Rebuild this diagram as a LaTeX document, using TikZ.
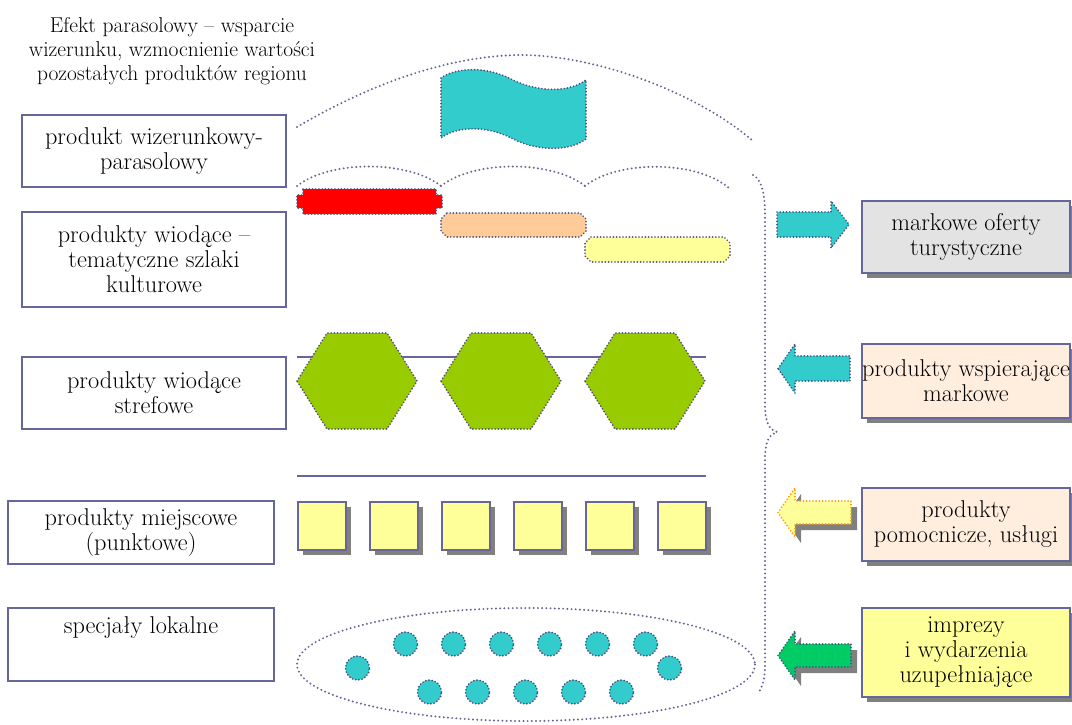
\documentclass[tikz,border=0pt]{standalone}
\usepackage{fontspec}
\usetikzlibrary{shadows}
\definecolor{bcol}{HTML}{666699}
\definecolor{dcol}{HTML}{4D4D80}
\definecolor{teal}{HTML}{33CCCC}
\definecolor{hexg}{HTML}{99CC00}
\definecolor{orng}{HTML}{FFCC99}
\definecolor{lyel}{HTML}{FFFF99}
\definecolor{peach}{HTML}{FFEEDD}
\definecolor{gbox}{HTML}{E3E3E3}
\definecolor{shcol}{HTML}{808080}
\definecolor{garr}{HTML}{00CC66}
\definecolor{odot}{HTML}{FF9900}
\begin{document}
\begin{tikzpicture}[x=1pt,y=-1pt,
  lbox/.style={draw=bcol, line width=2pt, fill=white, minimum width=264pt, align=center, inner sep=0pt, font=\fontsize{24.3}{25}\selectfont},
  rbox/.style={draw=bcol, line width=2pt, minimum width=208pt, align=center, inner sep=0pt, font=\fontsize{24.3}{25}\selectfont,
    drop shadow={shadow xshift=5pt, shadow yshift=-5pt, fill=shcol, opacity=1}},
  sq/.style={draw=bcol, line width=2pt, fill=lyel, minimum size=48pt, inner sep=0pt,
    drop shadow={shadow xshift=5pt, shadow yshift=-5pt, fill=shcol, opacity=1}},
  arcdot/.style={draw=bcol, line width=2.2pt, line cap=round, dash pattern=on 0pt off 4.2pt},
  shpdot/.style={draw=dcol, line width=1.9pt, line cap=round, dash pattern=on 0pt off 3.2pt},
  sepline/.style={draw=bcol, line width=2pt},
  dot/.style={circle, fill=teal, shpdot, minimum size=24pt, inner sep=0pt}
]
\useasboundingbox (0,0) rectangle (1072,724);

% caption
\node[align=center, inner sep=0pt, font=\fontsize{21.5}{24}\selectfont] (cap) at (172,51)
  {Efekt parasolowy -- wsparcie\\wizerunku, wzmocnienie wartości\\pozostałych produktów regionu};

% left boxes
\node[lbox, minimum height=72pt] (l1) at (154,151) {produkt wizerunkowy-\\parasolowy};
\node[lbox, minimum height=95pt] (l2) at (154,259.5) {produkty wiodące --\\tematyczne szlaki\\kulturowe};
\node[lbox, minimum height=72pt] (l3) at (154,393) {produkty wiodące\\strefowe};
\node[lbox, minimum width=266pt, minimum height=63pt] (l4) at (141,532.5) {produkty miejscowe\\(punktowe)};
\node[lbox, minimum width=266pt, minimum height=73pt] (l5) at (141,644.5) {};
\node[inner sep=0pt, font=\fontsize{24.3}{25}\selectfont, anchor=base] (l5t) at (141,633) {specjały lokalne};

% big umbrella arc
\draw[arcdot] (297,127) .. controls (360,90) and (440,56) .. (520,55) .. controls (600,55) and (700,95) .. (753,141);

% flag
\draw[shpdot, fill=teal] (441,78) .. controls (455,68) and (485,65) .. (513,80) .. controls (540,93) and (570,92) .. (586,80)
  -- (586,139) .. controls (570,151) and (540,152) .. (513,139) .. controls (485,124) and (455,127) .. (441,138) -- cycle;

% small arcs
\draw[arcdot] (297,186) .. controls (330,160) and (408,160) .. (441,186);
\draw[arcdot] (441,186) .. controls (474,160) and (552,160) .. (585,186);
\draw[arcdot] (585,186) .. controls (618,160) and (696,160) .. (729,188);

% bars
\draw[shpdot, fill=red] (303,189) -- (436,189) -- (436,195) -- (442,195) -- (442,208) -- (436,208) -- (436,214)
  -- (303,214) -- (303,208) -- (297,208) -- (297,195) -- (303,195) -- cycle;
\draw[shpdot, fill=orng] (447,213) -- (580,213) -- (586,219) -- (586,231) -- (580,237) -- (447,237) -- (441,231) -- (441,219) -- cycle;
\draw[shpdot, fill=lyel] (591,237) -- (724,237) -- (730,243) -- (730,256) -- (724,262) -- (591,262) -- (585,256) -- (585,243) -- cycle;

% hexagons row
\draw[sepline] (297,357) -- (706,357);
\foreach \cx in {357,501,645}{
  \draw[shpdot, fill=hexg] (\cx-60,381) -- (\cx-30,333) -- (\cx+30,333) -- (\cx+60,381) -- (\cx+30,429) -- (\cx-30,429) -- cycle;
}

% squares row
\draw[sepline] (297,476) -- (706,476);
\node[sq] (s1) at (321.5,525.5) {};
\node[sq] (s2) at (393.5,525.5) {};
\node[sq] (s3) at (465.5,525.5) {};
\node[sq] (s4) at (537.5,525.5) {};
\node[sq] (s5) at (609.5,525.5) {};
\node[sq] (s6) at (681.5,525.5) {};

% ellipse and dots
\draw[arcdot] (526,664.5) ellipse [x radius=229, y radius=56.5];
\node[dot] (c1) at (405.5,644) {};
\node[dot] (c2) at (453.5,644) {};
\node[dot] (c3) at (501.5,644) {};
\node[dot] (c4) at (549.5,644) {};
\node[dot] (c5) at (597.5,644) {};
\node[dot] (c6) at (645.5,644) {};
\node[dot] (c7) at (357.5,668) {};
\node[dot] (c8) at (669.5,668) {};
\node[dot] (c9) at (429.5,692) {};
\node[dot] (c10) at (477.5,692) {};
\node[dot] (c11) at (525.5,692) {};
\node[dot] (c12) at (573.5,692) {};
\node[dot] (c13) at (621.5,692) {};

% brace
\draw[arcdot] (753,175) .. controls (762,180) and (765,195) .. (765,215) -- (765,405)
  .. controls (765,424) and (770,430) .. (777,432) .. controls (770,434) and (765,440) .. (765,460)
  -- (765,665) .. controls (765,680) and (762,688) .. (758,693);

% arrows
\draw[shpdot, fill=teal] (777,212) -- (831,212) -- (831,201) -- (849,224.5) -- (831,248) -- (831,237) -- (777,237) -- cycle;
\draw[shpdot, fill=teal] (778,368.5) -- (795,344) -- (795,356) -- (850,356) -- (850,381) -- (795,381) -- (795,393) -- cycle;
\fill[shcol] (784,518.5) -- (801,494) -- (801,507) -- (857,507) -- (857,530) -- (801,530) -- (801,543) -- cycle;
\draw[draw=odot, line width=1.9pt, line cap=round, dash pattern=on 0pt off 3.2pt, fill=lyel]
  (778,512.5) -- (795,488) -- (795,501) -- (851,501) -- (851,524) -- (795,524) -- (795,537) -- cycle;
\fill[shcol] (784,661.5) -- (801,637) -- (801,650) -- (857,650) -- (857,673) -- (801,673) -- (801,686) -- cycle;
\draw[shpdot, fill=garr] (778,655.5) -- (795,631) -- (795,644) -- (851,644) -- (851,667) -- (795,667) -- (795,680) -- cycle;

% right boxes
\node[rbox, fill=gbox, minimum height=72pt] (r1) at (966,237) {markowe oferty\\turystyczne};
\node[rbox, fill=peach, minimum height=74pt] (r2) at (966,381) {produkty wspierające\\markowe};
\node[rbox, fill=peach, minimum height=73pt] (r3) at (966,524.5) {produkty\\pomocnicze, usługi};
\node[rbox, fill=lyel, minimum height=89pt] (r4) at (966,652.5) {imprezy\\i wydarzenia\\uzupełniające};
\end{tikzpicture}
\end{document}
